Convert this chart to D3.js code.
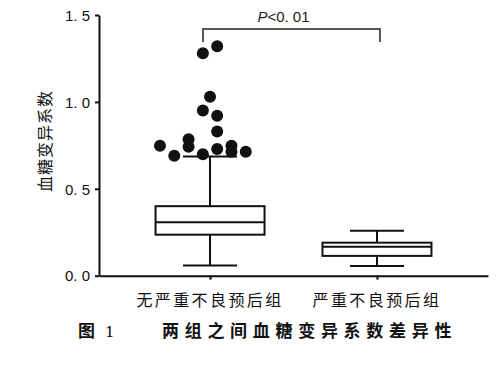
<!DOCTYPE html>
<html>
<head>
<meta charset="utf-8">
<script src="https://cdn.jsdelivr.net/npm/d3@7"></script>
<style>
  body { margin: 0; background: #fff; }
  svg { display: block; }
  .tick-lbl { font-family: "Liberation Sans", Arial, sans-serif; font-size: 15px; fill: #111; }
  .cjk { font-family: "Noto Sans CJK SC", sans-serif; fill: #111; }
</style>
</head>
<body>
<svg id="chart" width="500" height="368"></svg>
<script>
// groups and box statistics
var groups = ["无严重不良预后组", "严重不良预后组"];
var whiskerLow = [0.058, 0.056];
var q1 = [0.236, 0.114];
var median = [0.308, 0.167];
var q3 = [0.40, 0.19];
var whiskerHigh = [0.686, 0.259];

// outliers of the first group: value and jitter column
var outlierValues = [1.32, 1.28, 1.03, 0.95, 0.92, 0.83, 0.785, 0.748, 0.742, 0.729, 0.748, 0.713, 0.713, 0.699, 0.69];
var outlierCols   = [0.5, -0.5, 0, -0.5, 0.5, 0.5, -1.5, -3.5, -1.5, 0.5, 1.5, 1.5, 2.5, -0.5, -2.5];

var yTicks = [0, 0.5, 1.0, 1.5];
var pLabel = "<0.\u00a001";
var yTitle = "血糖变异系数";
var figNo = "图";
var figNum = "1";
var caption = "两组之间血糖变异系数差异性";

var svg = d3.select("#chart");

var x = d3.scalePoint()
    .domain(groups)
    .range([99, 488])
    .padding(0.665);

var y = d3.scaleLinear()
    .domain([0, 1.5])
    .range([275.7, 15]);

var boxW = 109, capW = 54, colStep = 14.3;

// y axis
var yAxis = d3.axisLeft(y)
    .tickValues(yTicks)
    .tickSize(4)
    .tickSizeOuter(0)
    .tickFormat(function(d) { return d.toFixed(1).replace(".", ".\u00a0"); });

var gy = svg.append("g")
    .attr("transform", "translate(99,0)")
    .call(yAxis);
gy.select(".domain").attr("stroke", "#111").attr("stroke-width", 2);
gy.selectAll(".tick line").attr("stroke", "#111").attr("stroke-width", 2);
gy.selectAll(".tick text").attr("class", "tick-lbl").attr("x", -9).attr("dy", "0.35em")
    .attr("font-family", null).attr("font-size", null);

// x axis
var xAxis = d3.axisBottom(x).tickSize(4).tickSizeOuter(0).tickFormat("");
var gx = svg.append("g")
    .attr("transform", "translate(0," + y(0) + ")")
    .call(xAxis);
gx.select(".domain").attr("stroke", "#111").attr("stroke-width", 2);
gx.selectAll(".tick line").attr("stroke", "#111").attr("stroke-width", 2);

// boxes
var boxes = svg.selectAll(".box")
    .data(groups)
  .enter().append("g")
    .attr("class", "box");

boxes.each(function(g, i) {
    var el = d3.select(this);
    var cx = x(g);
    var line = function(x1, y1, x2, y2) {
        el.append("line")
            .attr("x1", x1).attr("y1", y1).attr("x2", x2).attr("y2", y2)
            .attr("stroke", "#111").attr("stroke-width", 2);
    };
    line(cx, y(whiskerLow[i]), cx, y(q1[i]));
    line(cx, y(q3[i]), cx, y(whiskerHigh[i]));
    line(cx - capW / 2, y(whiskerLow[i]), cx + capW / 2, y(whiskerLow[i]));
    line(cx - capW / 2, y(whiskerHigh[i]), cx + capW / 2, y(whiskerHigh[i]));
    el.append("rect")
        .attr("x", cx - boxW / 2)
        .attr("y", y(q3[i]))
        .attr("width", boxW)
        .attr("height", y(q1[i]) - y(q3[i]))
        .attr("fill", "#fff")
        .attr("stroke", "#111")
        .attr("stroke-width", 2);
    line(cx - boxW / 2, y(median[i]), cx + boxW / 2, y(median[i]));
});

// outliers
svg.selectAll(".outlier")
    .data(outlierValues)
  .enter().append("circle")
    .attr("class", "outlier")
    .attr("cx", function(d, i) { return x(groups[0]) + outlierCols[i] * colStep; })
    .attr("cy", function(d) { return y(d); })
    .attr("r", 6)
    .attr("fill", "#111");

// significance bracket
var bx1 = x(groups[0]) - 7, bx2 = x(groups[1]) + 3;
svg.append("path")
    .attr("d", "M" + bx1 + "," + 42 + "V29H" + bx2 + "V42")
    .attr("fill", "none")
    .attr("stroke", "#555")
    .attr("stroke-width", 2);

var pt = svg.append("text")
    .attr("x", (bx1 + bx2) / 2 - 8)
    .attr("y", 22)
    .attr("text-anchor", "middle")
    .attr("font-family", "Liberation Sans, Arial, sans-serif")
    .attr("font-size", 15)
    .attr("fill", "#222");
pt.append("tspan").attr("font-style", "italic").text("P");
pt.append("tspan").text(pLabel);

// group labels
svg.selectAll(".grp")
    .data(groups)
  .enter().append("text")
    .attr("class", "cjk")
    .attr("x", function(d) { return x(d); })
    .attr("y", 306)
    .attr("text-anchor", "middle")
    .attr("font-size", 16)
    .attr("letter-spacing", 2.4)
    .text(function(d) { return d; });

// y title
svg.append("text")
    .attr("class", "cjk")
    .attr("transform", "translate(51,141) rotate(-90)")
    .attr("text-anchor", "middle")
    .attr("font-size", 16)
    .attr("letter-spacing", 1)
    .text(yTitle);

// caption
svg.append("text")
    .attr("class", "cjk")
    .attr("x", 78)
    .attr("y", 337)
    .attr("font-size", 17)
    .attr("font-weight", "bold")
    .text(figNo);

svg.append("text")
    .attr("x", 105)
    .attr("y", 337)
    .attr("font-family", "DejaVu Serif, serif")
    .attr("font-size", 15)
    .attr("fill", "#111")
    .text(figNum);

svg.append("text")
    .attr("class", "cjk")
    .attr("x", 162)
    .attr("y", 337)
    .attr("font-size", 17)
    .attr("font-weight", "bold")
    .attr("letter-spacing", 5.7)
    .text(caption);
</script>
</body>
</html>
